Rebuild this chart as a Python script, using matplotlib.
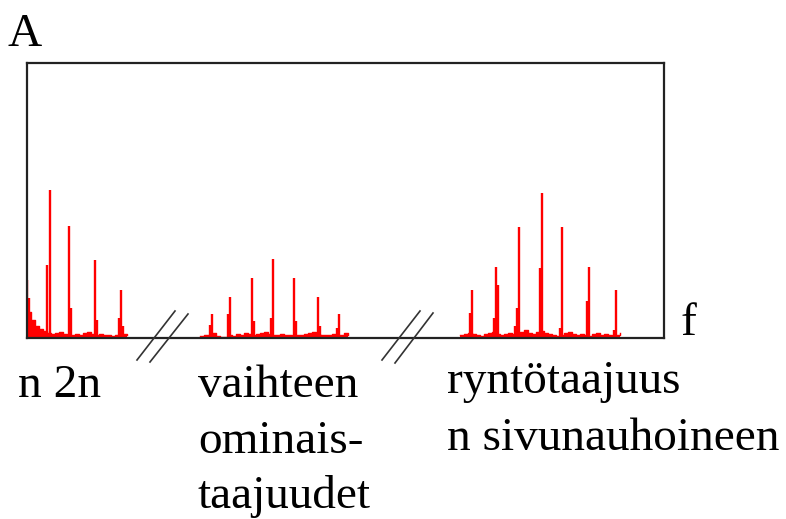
import matplotlib.pyplot as plt

# Frequency axis runs 0..637, amplitude 0..275 (arbitrary units)
# Group 1: harmonics n, 2n, ...
peaks1_x = [23, 42, 68, 94]
peaks1_h = [148, 112, 78, 48]
side1_x = [0, 2, 20, 44, 70, 92, 96]
side1_h = [58, 40, 73, 30, 18, 20, 12]
floor1 = [26, 18, 12, 9, 7, 5, 4, 5, 6, 4, 3, 3, 4, 3, 5, 6, 4, 3, 4, 3, 3, 2, 3, 2, 4, 3]

# Group 2: vaihteen ominaistaajuudet
peaks2_x = [185, 203, 225, 246, 267, 291, 312]
peaks2_h = [24, 41, 60, 79, 60, 41, 24]
side2_x = [183, 201, 227, 244, 269, 293, 310]
side2_h = [13, 24, 17, 20, 17, 12, 10]
floor2 = [2, 3, 3, 5, 2, 1, 1, 3, 2, 4, 3, 5, 4, 3, 4, 5, 6, 4, 3, 3, 4, 3, 3, 2,
          3, 3, 4, 5, 6, 4, 3, 3, 3, 4, 3, 3, 5, 3]

# Group 3: ryntotaajuus sivunauhoineen
peaks3_x = [445, 469, 492, 515, 535, 562, 589]
peaks3_h = [48, 71, 111, 145, 111, 71, 48]
side3_x = [443, 467, 471, 488, 490, 513, 533, 560, 587]
side3_h = [25, 20, 53, 12, 30, 70, 10, 37, 8]
floor3 = [3, 4, 5, 4, 3, 2, 4, 5, 6, 4, 3, 4, 5, 4, 3, 6, 8, 5, 4, 6, 7, 5, 4, 3,
          2, 3, 5, 6, 4, 3, 4, 3, 2, 4, 5, 3, 4, 3, 2, 3, 5]

starts = [0, 173, 433]
step = 4

plt.rcParams['font.family'] = ['Liberation Serif', 'DejaVu Serif']

fig = plt.figure(figsize=(7.86, 5.19), dpi=100)
ax = fig.add_axes([27 / 786, (519 - 338) / 519, 637 / 786, 275 / 519])
ax.set_xlim(0, 637)
ax.set_ylim(0, 275)
ax.set_xticks([])
ax.set_yticks([])
for s in ax.spines.values():
    s.set_linewidth(1.6)
    s.set_color('#222222')
    s.set_zorder(5)

red = '#ff0000'
for x0, fl in zip(starts, [floor1, floor2, floor3]):
    xs = [x0 + i * step for i in range(len(fl))]
    ax.fill_between(xs, 0, fl, step='post', color=red, lw=0)
    ax.step(xs, fl, where='post', color=red, lw=1.0)

for px, ph in [(peaks1_x, peaks1_h), (peaks2_x, peaks2_h), (peaks3_x, peaks3_h)]:
    ax.vlines(px, 0, ph, color=red, lw=1.7)
for sx, sh in [(side1_x, side1_h), (side2_x, side2_h), (side3_x, side3_h)]:
    ax.vlines(sx, 0, sh, color=red, lw=1.7)

# break marks on the frequency axis
for xa, ya, xb, yb in [(110, -22, 148, 27), (123, -24, 161, 24),
                       (355, -22, 393, 27), (368, -25, 406, 25)]:
    ax.plot([xa, xb], [ya, yb], color='#333333', lw=1.2, clip_on=False, zorder=6)

fs = 34
def label(x, y, s):
    fig.text(x / 786, 1 - y / 519, s, fontsize=fs, va='baseline', ha='left')

label(8, 46, 'A')
label(680, 335, 'f')
label(18, 397, 'n 2n')
label(198, 397, 'vaihteen')
label(198, 453, 'ominais-')
label(198, 508, 'taajuudet')
label(447, 393, 'ryntötaajuus')
label(447, 450, 'n sivunauhoineen')

fig.savefig('out.png', dpi=100)
